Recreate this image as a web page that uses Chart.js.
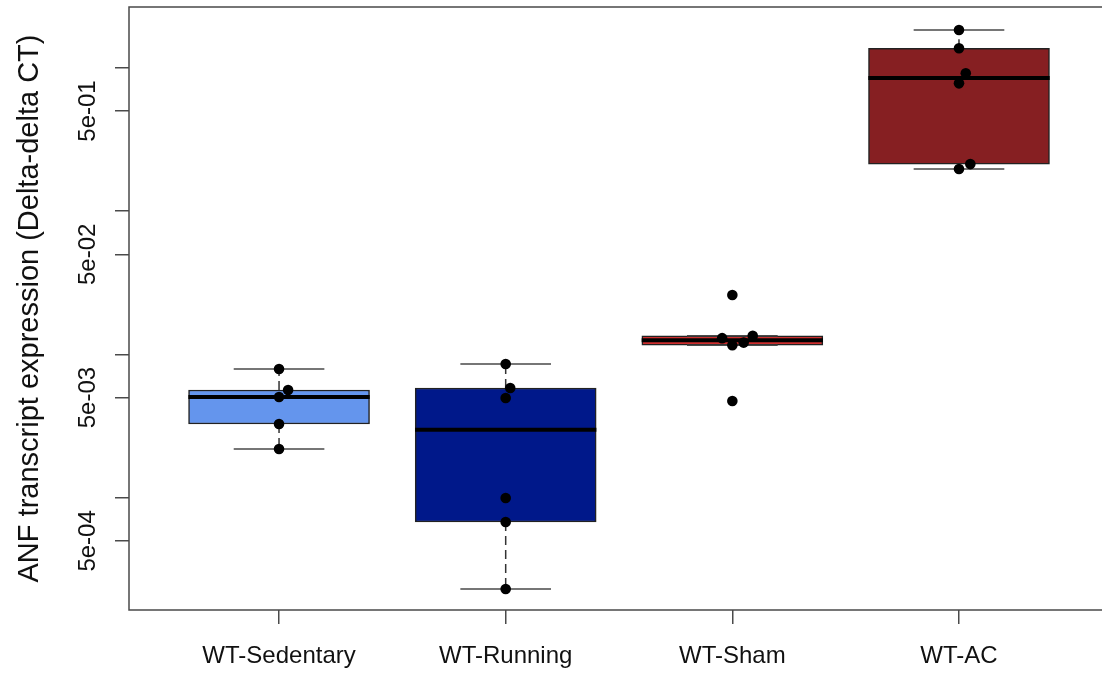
<!DOCTYPE html>
<html>
<head>
<meta charset="utf-8">
<title>ANF transcript expression</title>
<script src="https://cdn.jsdelivr.net/npm/chart.js@4.4.1/dist/chart.umd.min.js"></script>
<style>
  html, body { margin: 0; padding: 0; background: #fff; }
  #wrap { width: 1102px; height: 673px; }
</style>
</head>
<body>
<div id="wrap"><canvas id="anfChart" width="1102" height="673"></canvas></div>
<script>
const categories = ['WT-Sedentary', 'WT-Running', 'WT-Sham', 'WT-AC'];

// one value per animal (Delta-delta CT)
const sedentaryValues = [7.92e-3, 5.65e-3, 5.05e-3, 3.27e-3, 2.19e-3];
const runningValues = [8.58e-3, 5.83e-3, 4.97e-3, 9.96e-4, 6.77e-4, 2.31e-4];
const shamValues = [2.60e-2, 1.35e-2, 1.30e-2, 1.21e-2, 1.16e-2, 4.73e-3];
const acValues = [1.84, 1.37, 0.917, 0.780, 0.213, 0.197];

// sideways shift of each dot from the group centre (in group units)
const sedentaryOffsets = [0, 0.04, 0, 0, 0];
const runningOffsets = [0, 0.02, 0, 0, 0, 0];
const shamOffsets = [0, 0.09, -0.045, 0.05, 0, 0];
const acOffsets = [0, 0, 0.03, 0, 0.05, 0];

const yTickValues = [1, 0.5, 0.1, 0.05, 0.01, 0.005, 0.001, 0.0005];
const yTickLabels = ['', '5e-01', '', '5e-02', '', '5e-03', '', '5e-04'];

const boxColors = ['#6495ED', '#00188A', '#CD2E2E', '#861F22'];
const groups = [sedentaryValues, runningValues, shamValues, acValues];
const offsets = [sedentaryOffsets, runningOffsets, shamOffsets, acOffsets];

const FONT = '"Liberation Sans", Arial, sans-serif';
const TEXT_COLOR = '#111';
const LINE_COLOR = '#4a4a4a';

// R style fivenum + 1.5 IQR whiskers
function fivenum(values) {
    const x = values.slice().sort((a, b) => a - b);
    const n = x.length;
    const n4 = Math.floor((n + 3) / 2) / 2;
    const d = [1, n4, (n + 1) / 2, n + 1 - n4, n];
    return d.map(p => 0.5 * (x[Math.floor(p) - 1] + x[Math.ceil(p) - 1]));
}

function boxStats(values) {
    const f = fivenum(values);
    const q1 = f[1], med = f[2], q3 = f[3];
    const iqr = q3 - q1;
    const inside = values.filter(v => v >= q1 - 1.5 * iqr && v <= q3 + 1.5 * iqr);
    return { q1, med, q3, low: Math.min(...inside), high: Math.max(...inside) };
}

const stats = groups.map(boxStats);

const boxData = stats.map((s, i) => ({ x: i + 1, y: [s.q1, s.q3] }));
const pointData = [];
groups.forEach((vals, i) => {
    vals.forEach((v, j) => pointData.push({ x: i + 1 + offsets[i][j], y: v }));
});

const boxExtras = {
    id: 'boxExtras',
    afterDatasetDraw(chart, args) {
        if (args.index !== 1) return;
        const { ctx } = chart;
        const xs = chart.scales.x;
        const ys = chart.scales.y;
        ctx.save();
        stats.forEach((s, i) => {
            const c = xs.getPixelForValue(i + 1);
            const capL = xs.getPixelForValue(i + 1 - 0.2);
            const capR = xs.getPixelForValue(i + 1 + 0.2);

            // dashed whiskers
            ctx.strokeStyle = '#333';
            ctx.lineWidth = 1.5;
            ctx.setLineDash([9, 5]);
            ctx.beginPath();
            ctx.moveTo(c, ys.getPixelForValue(s.q3));
            ctx.lineTo(c, ys.getPixelForValue(s.high));
            ctx.moveTo(c, ys.getPixelForValue(s.q1));
            ctx.lineTo(c, ys.getPixelForValue(s.low));
            ctx.stroke();
            ctx.setLineDash([]);

            // staples
            ctx.strokeStyle = LINE_COLOR;
            ctx.beginPath();
            ctx.moveTo(capL, ys.getPixelForValue(s.high));
            ctx.lineTo(capR, ys.getPixelForValue(s.high));
            ctx.moveTo(capL, ys.getPixelForValue(s.low));
            ctx.lineTo(capR, ys.getPixelForValue(s.low));
            ctx.stroke();

            // median
            ctx.strokeStyle = '#000';
            ctx.lineWidth = 4;
            ctx.beginPath();
            ctx.moveTo(xs.getPixelForValue(i + 1 - 0.4), ys.getPixelForValue(s.med));
            ctx.lineTo(xs.getPixelForValue(i + 1 + 0.4), ys.getPixelForValue(s.med));
            ctx.stroke();
        });
        ctx.restore();
    },
    afterDraw(chart) {
        const { ctx, chartArea } = chart;
        const xs = chart.scales.x;
        const ys = chart.scales.y;
        ctx.save();

        // frame (right side falls outside the picture)
        ctx.strokeStyle = LINE_COLOR;
        ctx.lineWidth = 1.5;
        ctx.beginPath();
        ctx.moveTo(chartArea.right + 5, chartArea.top);
        ctx.lineTo(chartArea.left, chartArea.top);
        ctx.lineTo(chartArea.left, chartArea.bottom);
        ctx.lineTo(chartArea.right + 5, chartArea.bottom);
        ctx.stroke();

        ctx.fillStyle = TEXT_COLOR;

        // y tick labels, rotated like R
        ctx.font = '24px ' + FONT;
        ctx.textAlign = 'center';
        ctx.textBaseline = 'alphabetic';
        yTickValues.forEach((v, i) => {
            if (!yTickLabels[i]) return;
            ctx.save();
            ctx.translate(95, ys.getPixelForValue(v));
            ctx.rotate(-Math.PI / 2);
            ctx.fillText(yTickLabels[i], 0, 0);
            ctx.restore();
        });

        // x category labels
        categories.forEach((name, i) => {
            ctx.fillText(name, xs.getPixelForValue(i + 1), 663);
        });

        // y axis title
        ctx.font = '29px ' + FONT;
        ctx.save();
        ctx.translate(38, (chartArea.top + chartArea.bottom) / 2);
        ctx.rotate(-Math.PI / 2);
        ctx.fillText('ANF transcript expression (Delta-delta CT)', 0, 0);
        ctx.restore();

        ctx.restore();
    }
};

new Chart(document.getElementById('anfChart').getContext('2d'), {
    type: 'bar',
    data: {
        datasets: [
            {
                type: 'scatter',
                label: 'Animals',
                data: pointData,
                backgroundColor: '#000',
                borderColor: '#000',
                borderWidth: 0,
                pointRadius: 5.3,
                order: 0,
            },
            {
                type: 'bar',
                label: 'Boxes',
                data: boxData,
                backgroundColor: boxColors,
                borderColor: '#222',
                borderWidth: 1.5,
                borderSkipped: false,
                barThickness: 181,
                order: 1,
            },
        ],
    },
    options: {
        responsive: false,
        animation: false,
        layout: { autoPadding: false, padding: { top: 7, right: 0, bottom: 0, left: 0 } },
        plugins: {
            legend: { display: false },
            tooltip: { enabled: false },
        },
        scales: {
            x: {
                type: 'linear',
                min: 0.338,
                max: 4.631,
                offset: false,
                grid: {
                    offset: false,
                    drawOnChartArea: false,
                    drawTicks: true,
                    tickLength: 14,
                    color: LINE_COLOR,
                    lineWidth: 1.5,
                },
                border: { display: false },
                ticks: { display: false },
                afterBuildTicks: (scale) => {
                    scale.ticks = categories.map((c, i) => ({ value: i + 1 }));
                },
                afterFit: (scale) => { scale.height = 63; },
            },
            y: {
                type: 'logarithmic',
                min: 1.647e-4,
                max: 2.66,
                grid: {
                    drawOnChartArea: false,
                    drawTicks: true,
                    tickLength: 14,
                    color: LINE_COLOR,
                    lineWidth: 1.5,
                },
                border: { display: false },
                ticks: { display: false },
                afterBuildTicks: (scale) => {
                    scale.ticks = yTickValues.map(v => ({ value: v }));
                },
                afterFit: (scale) => { scale.width = 129; },
            },
        },
    },
    plugins: [boxExtras],
});
</script>
</body>
</html>
